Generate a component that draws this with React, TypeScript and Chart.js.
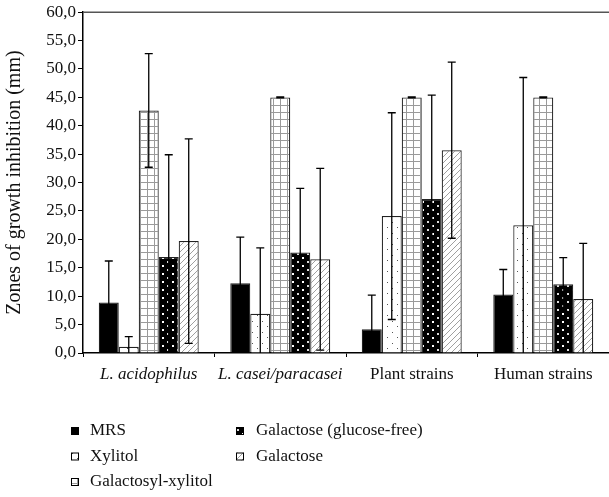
import React, { useEffect, useRef } from "react";
import { Chart, registerables } from "chart.js";

Chart.register(...registerables);

const categories = ["L. acidophilus", "L. casei/paracasei", "Plant strains", "Human strains"];
const seriesNames = ["MRS", "Xylitol", "Galactosyl-xylitol", "Galactose (glucose-free)", "Galactose"];

const mrs = [8.9, 12.3, 4.2, 10.3];
const mrsErr = [7.3, 8.1, 6.0, 4.4];
const xylitol = [1.1, 6.9, 24.1, 22.5];
const xylitolErr = [1.8, 11.6, 18.2, 26.0];
const galXylitol = [42.7, 45.0, 45.0, 45.0];
const galXylitolErr = [10.0, 0.1, 0.1, 0.1];
const galGlucoseFree = [16.9, 17.7, 27.1, 12.1];
const galGlucoseFreeErr = [18.0, 11.3, 18.3, 4.7];
const galactose = [19.7, 16.5, 35.7, 9.5];
const galactoseErr = [18.0, 16.0, 15.5, 9.8];

const yTicks = [0, 5, 10, 15, 20, 25, 30, 35, 40, 45, 50, 55, 60];

const FONT = "'Liberation Serif', 'Times New Roman', serif";

function makePattern(kind: string): CanvasPattern | string {
  const c = document.createElement("canvas");
  const ctx = c.getContext("2d")!;
  if (kind === "solid") return "#000";
  if (kind === "dots") {
    c.width = 10; c.height = 11;
    ctx.fillStyle = "#fff"; ctx.fillRect(0, 0, 10, 11);
    ctx.fillStyle = "#555";
    ctx.fillRect(2, 2, 1, 1);
    ctx.fillRect(7, 7, 1, 1);
  } else if (kind === "grid") {
    c.width = 7; c.height = 7;
    ctx.fillStyle = "#fff"; ctx.fillRect(0, 0, 7, 7);
    ctx.fillStyle = "#9a9a9a";
    ctx.fillRect(0, 0, 7, 1);
    ctx.fillRect(0, 0, 1, 7);
  } else if (kind === "blackdots") {
    c.width = 10; c.height = 8;
    ctx.fillStyle = "#000"; ctx.fillRect(0, 0, 10, 8);
    ctx.fillStyle = "#fff";
    ctx.fillRect(2, 1, 2, 2);
    ctx.fillStyle = "#ddd";
    ctx.fillRect(7, 5, 2, 2);
  } else if (kind === "hatch") {
    c.width = 6; c.height = 6;
    ctx.fillStyle = "#fff"; ctx.fillRect(0, 0, 6, 6);
    ctx.strokeStyle = "#888"; ctx.lineWidth = 0.8;
    ctx.beginPath();
    ctx.moveTo(0, 6); ctx.lineTo(6, 0);
    ctx.moveTo(-1, 1); ctx.lineTo(1, -1);
    ctx.moveTo(5, 7); ctx.lineTo(7, 5);
    ctx.stroke();
  }
  return ctx.createPattern(c, "repeat")!;
}

export default function App() {
  const ref = useRef<HTMLCanvasElement>(null);
  useEffect(() => {
    document.body.style.margin = "0";
    const fills = [
      makePattern("solid"),
      makePattern("dots"),
      makePattern("grid"),
      makePattern("blackdots"),
      makePattern("hatch"),
    ];
    const values = [mrs, xylitol, galXylitol, galGlucoseFree, galactose];
    const errors = [mrsErr, xylitolErr, galXylitolErr, galGlucoseFreeErr, galactoseErr];

    const errorBars = {
      id: "errorBars",
      afterDatasetsDraw(chart: any) {
        const ctx = chart.ctx;
        const ys = chart.scales.y;
        ctx.save();
        ctx.strokeStyle = "#000";
        ctx.lineWidth = 1.3;
        chart.data.datasets.forEach((ds: any, di: number) => {
          const meta = chart.getDatasetMeta(di);
          meta.data.forEach((bar: any, i: number) => {
            const v = values[di][i];
            const e = errors[di][i];
            const top = ys.getPixelForValue(v + e);
            const lowV = v - e;
            const bot = ys.getPixelForValue(Math.max(0, lowV));
            const x = bar.x;
            ctx.beginPath();
            ctx.moveTo(x, top); ctx.lineTo(x, bot);
            ctx.moveTo(x - 4, top); ctx.lineTo(x + 4, top);
            if (lowV > 0) { ctx.moveTo(x - 4, bot); ctx.lineTo(x + 4, bot); }
            ctx.stroke();
          });
        });
        ctx.restore();
      },
    };

    const frame = {
      id: "frame",
      afterDraw(chart: any) {
        const ctx = chart.ctx;
        const a = chart.chartArea;
        ctx.save();
        ctx.strokeStyle = "#555";
        ctx.lineWidth = 1.6;
        ctx.beginPath();
        ctx.moveTo(a.left, a.top);
        ctx.lineTo(a.right, a.top);
        ctx.stroke();
        // legend
        const cols = [71, 236];
        const textX = [90, 256];
        const rowsY = [431, 456.5, 482];
        ctx.font = `17px ${FONT}`;
        ctx.textBaseline = "middle";
        ctx.fillStyle = "#111";
        seriesNames.forEach((name, i) => {
          const col = i < 3 ? 0 : 1;
          const row = i < 3 ? i : i - 3;
          const y = rowsY[row];
          ctx.fillStyle = fills[i] as any;
          ctx.fillRect(cols[col], y - 4, 8, 8);
          ctx.strokeStyle = "#000";
          ctx.lineWidth = 1;
          ctx.strokeRect(cols[col] + 0.5, y - 3.5, 7, 7);
          ctx.fillStyle = "#111";
          ctx.fillText(name, textX[col], y);
        });
        ctx.restore();
      },
    };

    const chart = new Chart(ref.current!, {
      type: "bar",
      data: {
        labels: categories,
        datasets: seriesNames.map((name, i) => ({
          label: name,
          data: values[i],
          backgroundColor: fills[i] as any,
          borderColor: "#222",
          borderWidth: 1.2,
          barPercentage: 1,
          categoryPercentage: 0.76,
        })),
      },
      options: {
        responsive: false,
        devicePixelRatio: 1,
        animation: false,
        layout: { padding: { top: 12, right: 0, left: 0, bottom: 0 } },
        plugins: { legend: { display: false }, tooltip: { enabled: false } },
        scales: {
          x: {
            offset: true,
            grid: { display: true, drawOnChartArea: false, tickLength: 4, color: "#000", offset: true },
            border: { color: "#000", width: 1.5 },
            ticks: {
              color: "#111",
              padding: 7,
              maxRotation: 0,
              font: (c: any) => ({ family: FONT, size: 17, style: c.index < 2 ? "italic" : "normal" }),
            },
            afterFit: (s: any) => { s.height = 144; },
          },
          y: {
            min: 0,
            max: 60,
            afterBuildTicks: (s: any) => { s.ticks = yTicks.map((v) => ({ value: v })); },
            ticks: {
              color: "#111",
              padding: 2,
              font: { family: FONT, size: 17 },
              callback: (v: any) => Number(v).toFixed(1).replace(".", ","),
            },
            grid: { drawOnChartArea: false, tickLength: 5, color: "#000" },
            border: { color: "#000", width: 1.5 },
            title: {
              display: true,
              text: "Zones of growth inhibition (mm)",
              color: "#111",
              font: { family: FONT, size: 20 },
              padding: { top: 3, bottom: 0 },
            },
            afterFit: (s: any) => { s.width = 83; },
          },
        },
      },
      plugins: [errorBars, frame],
    });
    return () => chart.destroy();
  }, []);
  return <canvas ref={ref} width={609} height={497} style={{ display: "block", width: 609, height: 497 }} />;
}
